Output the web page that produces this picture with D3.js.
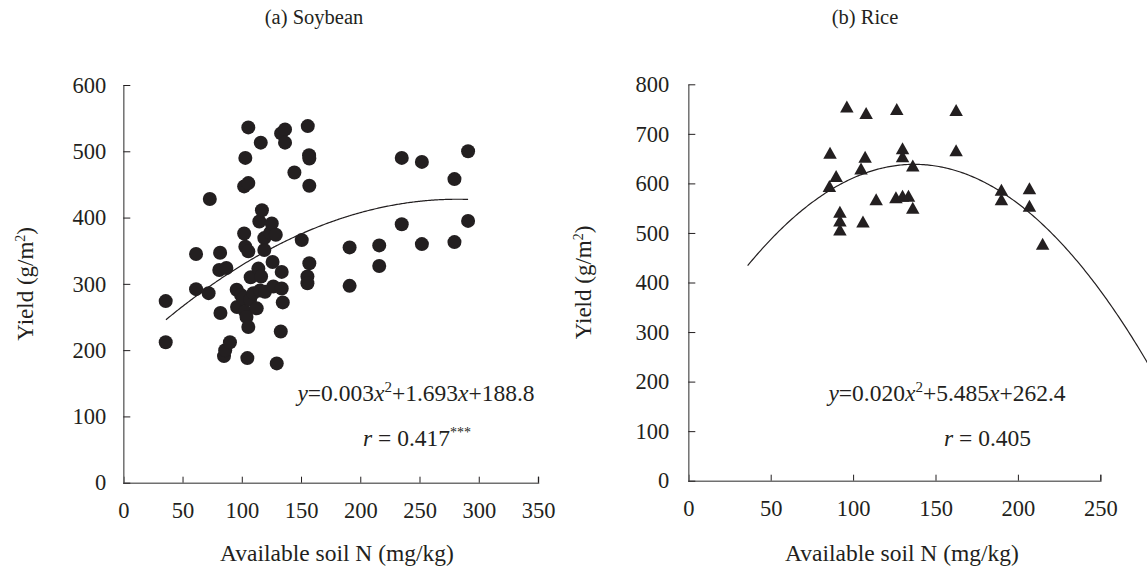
<!DOCTYPE html>
<html>
<head>
<meta charset="utf-8">
<script src="https://cdn.jsdelivr.net/npm/d3@7"></script>
<style>
body { margin: 0; background: #fff; }
svg text { font-family: "Liberation Serif", "Times New Roman", serif; fill: #231f20; }
</style>
</head>
<body>
<svg id="chart" width="1147" height="570"></svg>
<script>
// Soybean: available soil N (mg/kg) and yield (g/m2)
var soyN = [35.8, 35.8, 61.4, 61.4, 72, 73, 81.7, 81, 87, 82, 85, 86, 90,
    95.7, 96, 99.4, 101.3, 102.8, 102, 103, 105.5, 103, 102, 105.5, 105.5,
    104, 105.5, 104.7, 107, 107.5, 109.8, 112.6, 114, 114.8, 116, 117, 116.3,
    115.4, 119, 119, 119.6, 124, 125.3, 126, 126.6, 128.7, 129.5, 132.9,
    133.2, 136.5, 136.5, 133.7, 133.7, 134.6, 144.4, 150.6, 155.4, 155.4,
    157, 157, 156.8, 157, 155.7, 191, 191, 216, 216, 235, 235, 252, 252,
    279.5, 279.5, 291, 291];
var soyYield = [274, 212, 345, 292, 286, 428, 347, 321, 324, 256, 191, 200, 212,
    291, 265, 283, 278, 258, 376, 356, 349, 490, 447, 452, 536,
    250, 235, 188, 276, 310, 286, 263, 323, 394, 513, 411, 311,
    290, 369, 351, 288, 377, 391, 333, 296, 374, 180, 228,
    527, 533, 513, 318, 293, 272, 468, 366, 311, 301,
    331, 448, 494, 489, 538, 355, 297, 358, 327, 490, 390, 484, 360,
    458, 363, 500, 395];

// Rice: available soil N (mg/kg) and yield (g/m2)
var riceN = [86, 85.6, 89.7, 92, 92, 92, 96.2, 104.8, 106, 107.3, 107.9, 114,
    126.5, 126, 130, 130, 130, 133.6, 136.2, 136.2, 162.5, 162.5, 190, 190,
    207, 207, 215];
var riceYield = [662, 595, 615, 543, 525, 507, 755, 630, 523, 654, 742, 568,
    750, 572, 671, 655, 575, 575, 636, 551, 748, 667, 587, 568,
    590, 555, 478];

// Quadratic fits: a*x^2 + b*x + c
var soyFit = [-0.003, 1.693, 188.8];
var riceFit = [-0.020, 5.485, 262.4];
var soyFitRange = [36, 291];
var riceFitRange = [36, 290];

// Tick values
var soyTicksX = [0, 50, 100, 150, 200, 250, 300, 350];
var soyTicksY = [0, 100, 200, 300, 400, 500, 600];
var riceTicksX = [0, 50, 100, 150, 200, 250];
var riceTicksY = [0, 100, 200, 300, 400, 500, 600, 700, 800];

var svg = d3.select('#chart');
var ink = '#231f20';

function drawPanel(opt) {
    var x = d3.scaleLinear()
        .domain([0, opt.ticksX[opt.ticksX.length - 1]])
        .range([opt.left, opt.right]);
    var y = d3.scaleLinear()
        .domain([0, opt.ticksY[opt.ticksY.length - 1]])
        .range([opt.bottom, opt.top]);

    var g = svg.append('g');

    // x axis, ticks pointing up into the plot
    var xAxis = g.append('g')
        .attr('transform', 'translate(0,' + opt.bottom + ')')
        .call(d3.axisBottom(x).tickValues(opt.ticksX).tickSize(-6).tickPadding(19));
    // y axis, ticks pointing right
    var yAxis = g.append('g')
        .attr('transform', 'translate(' + opt.left + ',0)')
        .call(d3.axisLeft(y).tickValues(opt.ticksY).tickSize(-7).tickSizeOuter(0).tickPadding(opt.yPad));

    [xAxis, yAxis].forEach(function (a) {
        a.select('.domain').attr('stroke', '#707070').attr('stroke-width', 1.5);
        a.selectAll('.tick line').attr('stroke', ink).attr('stroke-width', 1);
        a.selectAll('.tick text')
            .style('font-size', '22.5px')
            .attr('fill', ink);
    });

    // fitted curve
    var xs = d3.range(opt.fitRange[0], opt.fitRange[1] + 0.5, 1);
    var line = d3.line()
        .x(function (d) { return x(d); })
        .y(function (d) { return y(opt.fit[0] * d * d + opt.fit[1] * d + opt.fit[2]); });
    g.append('path')
        .datum(xs)
        .attr('d', line)
        .attr('fill', 'none')
        .attr('stroke', ink)
        .attr('stroke-width', 1.2);

    // points
    var pts = opt.xs.map(function (v, i) { return [v, opt.ys[i]]; });
    if (opt.marker === 'circle') {
        g.selectAll('circle.pt')
            .data(pts).enter()
            .append('circle')
            .attr('class', 'pt')
            .attr('cx', function (d) { return x(d[0]); })
            .attr('cy', function (d) { return y(d[1]); })
            .attr('r', 7)
            .attr('fill', ink);
    } else {
        var w = 13.5, h = 12;
        g.selectAll('path.pt')
            .data(pts).enter()
            .append('path')
            .attr('class', 'pt')
            .attr('d', 'M0,' + (-h / 2) + 'L' + (w / 2) + ',' + (h / 2) + 'L' + (-w / 2) + ',' + (h / 2) + 'Z')
            .attr('transform', function (d) { return 'translate(' + x(d[0]) + ',' + y(d[1]) + ')'; })
            .attr('fill', ink);
    }

    // panel title
    g.append('text')
        .attr('x', opt.titleX)
        .attr('y', 24)
        .attr('text-anchor', 'middle')
        .style('font-size', '20.5px')
        .text(opt.title);

    // x axis title
    g.append('text')
        .attr('x', opt.xTitleX)
        .attr('y', 561)
        .attr('text-anchor', 'middle')
        .style('font-size', '23.5px')
        .text('Available soil N (mg/kg)');

    // y axis title
    var yt = g.append('text')
        .attr('transform', 'translate(' + opt.yTitleX + ',' + ((opt.top + opt.bottom) / 2) + ') rotate(-90)')
        .attr('text-anchor', 'middle')
        .style('font-size', '23px');
    yt.append('tspan').text('Yield (g/m');
    yt.append('tspan').attr('dy', -8).style('font-size', '14px').text('2');
    yt.append('tspan').attr('dy', 8).text(')');

    // equation
    var eq = g.append('text')
        .attr('x', opt.eqX)
        .attr('y', 401)
        .attr('text-anchor', 'middle')
        .style('font-size', '23.5px');
    eq.append('tspan').style('font-style', 'italic').text('y');
    eq.append('tspan').text('=' + opt.eqA);
    eq.append('tspan').style('font-style', 'italic').text('x');
    eq.append('tspan').attr('dy', -9).style('font-size', '15px').text('2');
    eq.append('tspan').attr('dy', 9).text('+' + opt.eqB);
    eq.append('tspan').style('font-style', 'italic').text('x');
    eq.append('tspan').text('+' + opt.eqC);

    // correlation
    var rt = g.append('text')
        .attr('x', opt.rX)
        .attr('y', 446)
        .style('font-size', '23.5px');
    rt.append('tspan').style('font-style', 'italic').text('r');
    rt.append('tspan').text(' = ' + opt.r);
    if (opt.stars) {
        rt.append('tspan').attr('dy', -9).style('font-size', '14px').text(opt.stars);
    }
}

drawPanel({
    left: 123.3, right: 538, top: 85, bottom: 482.7,
    ticksX: soyTicksX, ticksY: soyTicksY, yPad: 17,
    xs: soyN, ys: soyYield, marker: 'circle',
    fit: soyFit, fitRange: soyFitRange,
    title: '(a) Soybean', titleX: 314,
    xTitleX: 337, yTitleX: 33,
    eqX: 416, eqA: '0.003', eqB: '1.693', eqC: '188.8',
    rX: 363, r: '0.417', stars: '***'
});

drawPanel({
    left: 688.3, right: 1100.3, top: 84.3, bottom: 480.7,
    ticksX: riceTicksX, ticksY: riceTicksY, yPad: 19,
    xs: riceN, ys: riceYield, marker: 'triangle',
    fit: riceFit, fitRange: riceFitRange,
    title: '(b) Rice', titleX: 865,
    xTitleX: 902, yTitleX: 591,
    eqX: 947, eqA: '0.020', eqB: '5.485', eqC: '262.4',
    rX: 944, r: '0.405', stars: ''
});
</script>
</body>
</html>
